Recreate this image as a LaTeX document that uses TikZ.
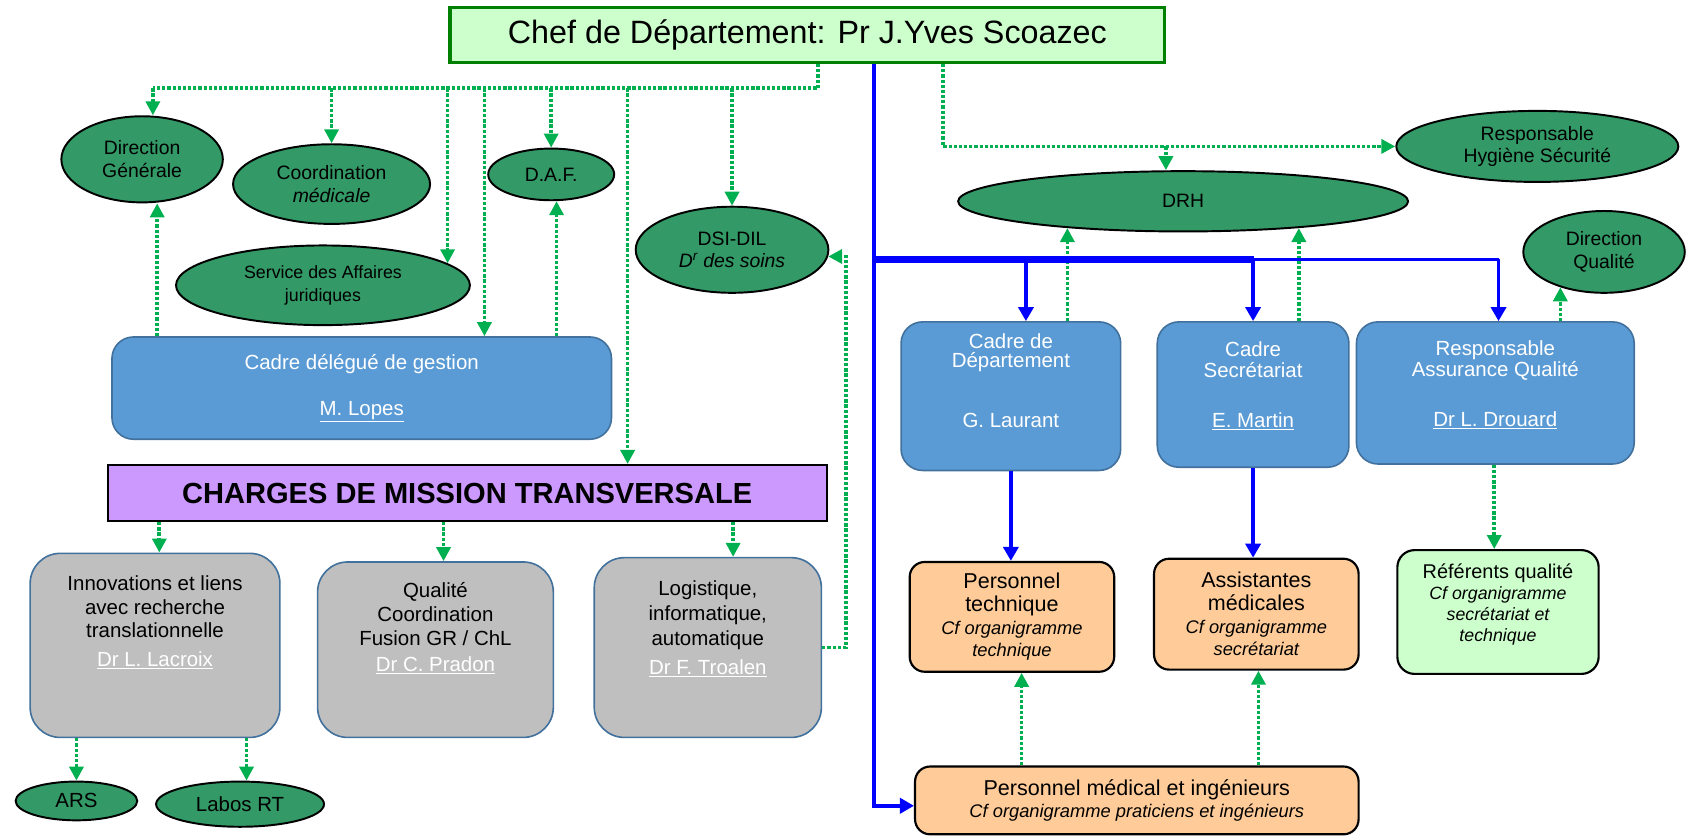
\documentclass[tikz,border=0pt]{standalone}
\usepackage{fontspec}
\setmainfont{Liberation Sans}
\usetikzlibrary{arrows.meta,shapes.geometric}
\definecolor{gr}{RGB}{0,176,80}
\definecolor{eg}{RGB}{51,153,102}
\definecolor{bf}{RGB}{91,155,213}
\definecolor{bb}{RGB}{65,113,156}
\definecolor{gf}{RGB}{191,191,191}
\definecolor{of}{RGB}{255,204,153}
\definecolor{lg}{RGB}{204,255,204}
\definecolor{vi}{RGB}{204,153,255}
\definecolor{dg}{RGB}{0,128,0}
\definecolor{bl}{RGB}{0,0,255}
\newcommand{\cfo}[1]{{\fontsize{17}{20}\selectfont\itshape #1}}
\newcommand{\cfr}[1]{{\fontsize{16.5}{19}\selectfont\itshape #1}}
\begin{document}
\begin{tikzpicture}[x=1pt,y=-1pt,
  ell/.style={ellipse, draw=black, line width=1.8pt, fill=eg, inner sep=0pt, align=center, font=\fontsize{18}{21}\selectfont},
  bluebox/.style={rectangle, rounded corners=20pt, draw=bb, line width=1.5pt, fill=bf, inner sep=0pt, align=center, text=white, font=\fontsize{19}{22}\selectfont},
  graybox/.style={rectangle, rounded corners=28pt, draw=bb, line width=1.5pt, fill=gf, inner sep=0pt},
  orbox/.style={rectangle, rounded corners=14pt, draw=black, line width=2pt, fill=of, inner sep=0pt, align=center, font=\fontsize{20}{21}\selectfont},
  lgbox/.style={rectangle, rounded corners=16pt, draw=black, line width=2pt, fill=lg, inner sep=0pt},
  txt/.style={inner sep=0pt, align=center, anchor=north},
  gseg/.style={draw=gr, line width=3.4pt, dash pattern=on 3pt off 1.8pt},
  gline/.style={gseg, -{Triangle[length=13pt,width=13pt]}},
  bline/.style={draw=bl, line width=3.5pt, -{Triangle[length=13pt,width=14pt]}}
]
\useasboundingbox (0,0) rectangle (1568,777);

% ---------- nodes ----------
\node[rectangle, draw=dg, line width=3pt, fill=lg, minimum width=664pt, minimum height=51pt, font=\fontsize{30}{34}\selectfont] (chef) at (750,32.5) {Chef de Département: Pr J.Yves Scoazec};

\node[ell, minimum width=150pt, minimum height=80pt] (dg) at (132,148) {Direction\\Générale};
\node[ell, minimum width=183pt, minimum height=74pt] (coord) at (308,171) {Coordination\\\textit{médicale}};
\node[ell, minimum width=117pt, minimum height=48pt] (daf) at (512,162) {D.A.F.};
\node[ell, minimum width=273pt, minimum height=74pt, font=\fontsize{16.5}{21}\selectfont] (srv) at (300,265) {Service des Affaires\\juridiques};
\node[ell, minimum width=179pt, minimum height=80pt] (dsi) at (680,232) {DSI-DIL\\\textit{D\textsuperscript{r} des soins}};
\node[ell, minimum width=262pt, minimum height=66pt] (hyg) at (1428,136) {Responsable\\Hygiène Sécurité};
\node[ell, minimum width=418pt, minimum height=56pt] (drh) at (1099,187) {DRH};
\node[ell, minimum width=150pt, minimum height=76pt] (dq) at (1490,234) {Direction\\Qualité};

\node[bluebox, minimum width=464pt, minimum height=95pt] (cdg) at (336,360.5) {Cadre délégué de gestion\\[20.5pt]\underline{M. Lopes}};

\node[rectangle, draw=black, line width=2pt, fill=vi, minimum width=668pt, minimum height=52pt, font=\bfseries\fontsize{27}{30}\selectfont] (charges) at (434,458) {CHARGES DE MISSION TRANSVERSALE};

\node[graybox, minimum width=232pt, minimum height=171pt] (inno) at (144,599.5) {};
\node[graybox, minimum width=219pt, minimum height=163pt] (qual) at (404.5,603.5) {};
\node[graybox, minimum width=211pt, minimum height=167pt] (logi) at (657.5,601.5) {};
\node[txt, font=\fontsize{19}{21.5}\selectfont] (innot) at (144,535) {Innovations et liens\\avec recherche\\translationnelle\\[5.5pt]\textcolor{white}{\underline{Dr L. Lacroix}}};
\node[txt, font=\fontsize{19}{22}\selectfont] (qualt) at (404.5,541) {Qualité\\Coordination\\Fusion GR / ChL\\[3pt]\textcolor{white}{\underline{Dr C. Pradon}}};
\node[txt, font=\fontsize{19}{23.5}\selectfont] (logit) at (657.5,539) {Logistique,\\informatique,\\automatique\\[3.5pt]\textcolor{white}{\underline{Dr F. Troalen}}};

\node[ell, minimum width=113pt, minimum height=36pt, font=\fontsize{19}{21}\selectfont] (ars) at (71,744) {ARS};
\node[ell, minimum width=156pt, minimum height=42pt, font=\fontsize{19}{21}\selectfont] (labos) at (223,747) {Labos RT};

\node[bluebox, minimum width=204pt, minimum height=138pt] (cdd) at (939,368) {};
\node[bluebox, minimum width=178pt, minimum height=135pt] (csec) at (1164,366.5) {};
\node[bluebox, minimum width=258pt, minimum height=132pt] (raq) at (1389,365) {};
\node[txt, text=white, font=\fontsize{19}{17}\selectfont] (cddt) at (939,310) {Cadre de\\Département\\[38pt]G. Laurant};
\node[txt, text=white, font=\fontsize{19}{20}\selectfont] (csect) at (1164,317) {Cadre\\Secrétariat\\[26pt]\underline{E. Martin}};
\node[txt, text=white, font=\fontsize{19}{20}\selectfont] (raqt) at (1389,316) {Responsable\\Assurance Qualité\\[26pt]\underline{Dr L. Drouard}};

\node[orbox, minimum width=190pt, minimum height=102pt] (ptech) at (940,573) {Personnel\\technique\\\cfo{Cf organigramme}\\\cfo{technique}};
\node[orbox, minimum width=190pt, minimum height=103pt] (assist) at (1167,570.5) {Assistantes\\médicales\\\cfo{Cf organigramme}\\\cfo{secrétariat}};
\node[lgbox, minimum width=187pt, minimum height=115pt] (ref) at (1391.5,568.5) {};
\node[txt, font=\fontsize{18.5}{19.5}\selectfont] (reft) at (1391.5,524) {Référents qualité\\\cfr{Cf organigramme}\\\cfr{secrétariat et}\\\cfr{technique}};
\node[orbox, minimum width=412pt, minimum height=63pt] (pmed) at (1056,743.5) {Personnel médical et ingénieurs\\\cfo{Cf organigramme praticiens et ingénieurs}};

% ---------- column coordinates ----------
\coordinate (busL) at (142,82);
\coordinate (busR) at (760,82);
\coordinate (k146) at (146,0);
\coordinate (k450) at (450,0);
\coordinate (k517) at (517,0);
\coordinate (k583) at (583,0);
\coordinate (k148) at (148,0);
\coordinate (k412) at (412,0);
\coordinate (k681) at (681,0);
\coordinate (k229) at (229,0);
\coordinate (k1083) at (1083,0);
\coordinate (k1388) at (1388,0);
\coordinate (k949) at (949,0);
\coordinate (k1169) at (1169,0);
\coordinate (k953) at (953,0);
\coordinate (hb) at (876,136);
\coordinate (bv) at (812,241);
\coordinate (bm) at (1165,241);
\coordinate (be) at (1392,241);

% ---------- green dotted connectors ----------
\draw[gseg] (chef.south -| busR) -- (busR) -- (busL);
\draw[gline] (busL) -- (dg.north -| busL);
\draw[gline] (busL -| coord.north) -- (coord.north);
\draw[gline] (busL -| srv.10.6) -- (srv.10.6);
\draw[gline] (busL -| k450) -- (cdg.north -| k450);
\draw[gline] (busL -| daf.north) -- (daf.north);
\draw[gline] (busL -| k583) -- (charges.north -| k583);
\draw[gline] (busL -| dsi.north) -- (dsi.north);
\draw[gline] (cdg.north -| k146) -- (dg.south -| k146);
\draw[gline] (cdg.north -| k517) -- (daf.south -| k517);

\draw[gline] (chef.south -| hb) -- (hb) -- (hyg.west);
\draw[gline] (hb -| k1083) -- (drh.north -| k1083);
\draw[gline] (cdd.north -| drh.193) -- (drh.193);
\draw[gline] (csec.north -| drh.347) -- (drh.347);
\draw[gline] (raq.north -| dq.219) -- (dq.219);

\draw[gline] (charges.south -| k148) -- (inno.north -| k148);
\draw[gline] (charges.south -| k412) -- (qual.north -| k412);
\draw[gline] (charges.south -| k681) -- (logi.north -| k681);
\draw[gline] (inno.south -| ars.north) -- (ars.north);
\draw[gline] (inno.south -| k229) -- (labos.north -| k229);
\draw[gline] (logi.east) -- ++(22,0) |- (dsi.-4);

\draw[gline] (raq.south -| k1388) -- (ref.north -| k1388);
\draw[gline] (pmed.north -| k949) -- (ptech.south -| k949);
\draw[gline] (pmed.north -| k1169) -- (assist.south -| k1169);

% ---------- blue connectors ----------
\draw[bline] (chef.south -| bv) |- ([yshift=-5pt]pmed.west);
\draw[draw=bl, line width=6pt] (bv) -- (bm);
\draw[draw=bl, line width=3.5pt] (bm) -- (be);
\draw[bline] (bv -| k953) -- (cdd.north -| k953);
\draw[bline] (bv -| csec.north) -- (csec.north);
\draw[bline] (be) -- (raq.north -| be);
\draw[bline] (cdd.south) -- (cdd.south |- ptech.north);
\draw[bline] (csec.south) -- (csec.south |- assist.north);
\end{tikzpicture}
\end{document}
